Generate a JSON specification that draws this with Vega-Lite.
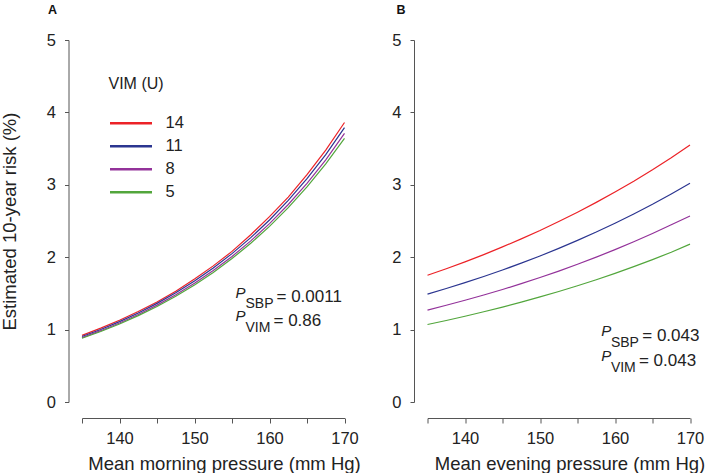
{
  "$schema": "https://vega.github.io/schema/vega-lite/v6.json",
  "padding": {"left": 0, "top": 4, "right": 0, "bottom": 0},
  "bounds": "flush",
  "spacing": 82.5,
  "config": {
    "font": "Liberation Sans",
    "view": {"stroke": null},
    "axis": {
      "grid": false,
      "domainColor": "#555555",
      "tickColor": "#555555",
      "labelColor": "#222222",
      "titleColor": "#222222",
      "labelFontSize": 16.5,
      "titleFontSize": 18.5,
      "titleFontWeight": "normal",
      "labelFont": "Liberation Sans",
      "titleFont": "Liberation Sans",
      "domainWidth": 1,
      "tickWidth": 1
    }
  },
  "datasets": {
    "curves": [
      {"p":"A","v":"14","x":135,"y":0.92},{"p":"A","v":"14","x":137.5,"y":1.02},{"p":"A","v":"14","x":140,"y":1.13},{"p":"A","v":"14","x":142.5,"y":1.25},{"p":"A","v":"14","x":145,"y":1.38},{"p":"A","v":"14","x":147.5,"y":1.53},{"p":"A","v":"14","x":150,"y":1.70},{"p":"A","v":"14","x":152.5,"y":1.88},{"p":"A","v":"14","x":155,"y":2.08},{"p":"A","v":"14","x":157.5,"y":2.31},{"p":"A","v":"14","x":160,"y":2.56},{"p":"A","v":"14","x":162.5,"y":2.83},{"p":"A","v":"14","x":165,"y":3.14},{"p":"A","v":"14","x":167.5,"y":3.48},{"p":"A","v":"14","x":170,"y":3.86},
      {"p":"A","v":"11","x":135,"y":0.905},{"p":"A","v":"11","x":137.5,"y":1.002},{"p":"A","v":"11","x":140,"y":1.11},{"p":"A","v":"11","x":142.5,"y":1.23},{"p":"A","v":"11","x":145,"y":1.362},{"p":"A","v":"11","x":147.5,"y":1.508},{"p":"A","v":"11","x":150,"y":1.671},{"p":"A","v":"11","x":152.5,"y":1.85},{"p":"A","v":"11","x":155,"y":2.049},{"p":"A","v":"11","x":157.5,"y":2.27},{"p":"A","v":"11","x":160,"y":2.514},{"p":"A","v":"11","x":162.5,"y":2.785},{"p":"A","v":"11","x":165,"y":3.084},{"p":"A","v":"11","x":167.5,"y":3.416},{"p":"A","v":"11","x":170,"y":3.79},
      {"p":"A","v":"8","x":135,"y":0.89},{"p":"A","v":"8","x":137.5,"y":0.985},{"p":"A","v":"8","x":140,"y":1.091},{"p":"A","v":"8","x":142.5,"y":1.208},{"p":"A","v":"8","x":145,"y":1.338},{"p":"A","v":"8","x":147.5,"y":1.481},{"p":"A","v":"8","x":150,"y":1.64},{"p":"A","v":"8","x":152.5,"y":1.816},{"p":"A","v":"8","x":155,"y":2.01},{"p":"A","v":"8","x":157.5,"y":2.226},{"p":"A","v":"8","x":160,"y":2.464},{"p":"A","v":"8","x":162.5,"y":2.728},{"p":"A","v":"8","x":165,"y":3.021},{"p":"A","v":"8","x":167.5,"y":3.345},{"p":"A","v":"8","x":170,"y":3.71},
      {"p":"A","v":"5","x":135,"y":0.88},{"p":"A","v":"5","x":137.5,"y":0.974},{"p":"A","v":"5","x":140,"y":1.078},{"p":"A","v":"5","x":142.5,"y":1.193},{"p":"A","v":"5","x":145,"y":1.32},{"p":"A","v":"5","x":147.5,"y":1.461},{"p":"A","v":"5","x":150,"y":1.617},{"p":"A","v":"5","x":152.5,"y":1.79},{"p":"A","v":"5","x":155,"y":1.981},{"p":"A","v":"5","x":157.5,"y":2.192},{"p":"A","v":"5","x":160,"y":2.426},{"p":"A","v":"5","x":162.5,"y":2.685},{"p":"A","v":"5","x":165,"y":2.971},{"p":"A","v":"5","x":167.5,"y":3.289},{"p":"A","v":"5","x":170,"y":3.64},
      {"p":"B","v":"14","x":135,"y":1.75},{"p":"B","v":"14","x":137.5,"y":1.841},{"p":"B","v":"14","x":140,"y":1.936},{"p":"B","v":"14","x":142.5,"y":2.036},{"p":"B","v":"14","x":145,"y":2.142},{"p":"B","v":"14","x":147.5,"y":2.253},{"p":"B","v":"14","x":150,"y":2.369},{"p":"B","v":"14","x":152.5,"y":2.492},{"p":"B","v":"14","x":155,"y":2.621},{"p":"B","v":"14","x":157.5,"y":2.757},{"p":"B","v":"14","x":160,"y":2.9},{"p":"B","v":"14","x":162.5,"y":3.05},{"p":"B","v":"14","x":165,"y":3.208},{"p":"B","v":"14","x":167.5,"y":3.374},{"p":"B","v":"14","x":170,"y":3.55},
      {"p":"B","v":"11","x":135,"y":1.49},{"p":"B","v":"11","x":137.5,"y":1.567},{"p":"B","v":"11","x":140,"y":1.648},{"p":"B","v":"11","x":142.5,"y":1.734},{"p":"B","v":"11","x":145,"y":1.823},{"p":"B","v":"11","x":147.5,"y":1.918},{"p":"B","v":"11","x":150,"y":2.017},{"p":"B","v":"11","x":152.5,"y":2.122},{"p":"B","v":"11","x":155,"y":2.232},{"p":"B","v":"11","x":157.5,"y":2.347},{"p":"B","v":"11","x":160,"y":2.469},{"p":"B","v":"11","x":162.5,"y":2.597},{"p":"B","v":"11","x":165,"y":2.731},{"p":"B","v":"11","x":167.5,"y":2.873},{"p":"B","v":"11","x":170,"y":3.02},
      {"p":"B","v":"8","x":135,"y":1.27},{"p":"B","v":"8","x":137.5,"y":1.336},{"p":"B","v":"8","x":140,"y":1.405},{"p":"B","v":"8","x":142.5,"y":1.478},{"p":"B","v":"8","x":145,"y":1.554},{"p":"B","v":"8","x":147.5,"y":1.635},{"p":"B","v":"8","x":150,"y":1.719},{"p":"B","v":"8","x":152.5,"y":1.808},{"p":"B","v":"8","x":155,"y":1.902},{"p":"B","v":"8","x":157.5,"y":2.001},{"p":"B","v":"8","x":160,"y":2.104},{"p":"B","v":"8","x":162.5,"y":2.213},{"p":"B","v":"8","x":165,"y":2.328},{"p":"B","v":"8","x":167.5,"y":2.449},{"p":"B","v":"8","x":170,"y":2.57},
      {"p":"B","v":"5","x":135,"y":1.07},{"p":"B","v":"5","x":137.5,"y":1.126},{"p":"B","v":"5","x":140,"y":1.184},{"p":"B","v":"5","x":142.5,"y":1.246},{"p":"B","v":"5","x":145,"y":1.311},{"p":"B","v":"5","x":147.5,"y":1.379},{"p":"B","v":"5","x":150,"y":1.451},{"p":"B","v":"5","x":152.5,"y":1.526},{"p":"B","v":"5","x":155,"y":1.606},{"p":"B","v":"5","x":157.5,"y":1.689},{"p":"B","v":"5","x":160,"y":1.777},{"p":"B","v":"5","x":162.5,"y":1.87},{"p":"B","v":"5","x":165,"y":1.967},{"p":"B","v":"5","x":167.5,"y":2.069},{"p":"B","v":"5","x":170,"y":2.18}
    ],
    "notes": [
      {"p":"A","k":"P","x":155.47,"y":1.443,"t":"P"},
      {"p":"A","k":"s","x":156.8,"y":1.298,"t":"SBP"},
      {"p":"A","k":"m","x":160.93,"y":1.381,"t":"= 0.0011"},
      {"p":"A","k":"P","x":155.47,"y":1.112,"t":"P"},
      {"p":"A","k":"s","x":156.8,"y":0.96,"t":"VIM"},
      {"p":"A","k":"m","x":160.53,"y":1.05,"t":"= 0.86"},
      {"p":"B","k":"P","x":158.15,"y":0.912,"t":"P"},
      {"p":"B","k":"s","x":159.45,"y":0.76,"t":"SBP"},
      {"p":"B","k":"m","x":163.63,"y":0.847,"t":"= 0.043"},
      {"p":"B","k":"P","x":158.15,"y":0.566,"t":"P"},
      {"p":"B","k":"s","x":159.45,"y":0.414,"t":"VIM"},
      {"p":"B","k":"m","x":163.19,"y":0.501,"t":"= 0.043"}
    ]
  },
  "hconcat": [
    {
      "width": 262.5,
      "height": 362,
      "title": {"text": "A", "anchor": "start", "frame": "group", "dx": -34, "fontSize": 12.5, "fontWeight": "bold", "color": "#111111", "offset": 15.5},
      "encoding": {
        "x": {"field": "x", "type": "quantitative", "scale": {"domain": [135, 170], "nice": false, "zero": false},
              "axis": {"title": "Mean morning pressure (mm Hg)", "values": [135,140,145,150,155,160,165,170], "labelExpr": "datum.value % 10 == 0 ? datum.label : ''", "offset": 16, "tickSize": 5, "labelPadding": 7, "titlePadding": 8, "titleX": 142, "labelFlush": false, "labelOverlap": false}},
        "y": {"field": "y", "type": "quantitative", "scale": {"domain": [0, 5], "nice": false},
              "axis": {"title": "Estimated 10-year risk (%)", "values": [0,1,2,3,4,5], "offset": 13.5, "tickSize": 4, "labelPadding": 9, "titlePadding": 27, "labelFlush": false}}
      },
      "layer": [
        {
          "data": {"name": "curves"},
          "transform": [{"filter": "datum.p == 'A'"}],
          "mark": {"type": "line", "strokeWidth": 1.2},
          "encoding": {
            "color": {"field": "v", "type": "nominal",
                      "scale": {"domain": ["14","11","8","5"], "range": ["#ec2227","#2b3590","#93329a","#52a63c"]},
                      "legend": {"orient": "none", "legendX": 26.5, "legendY": 36, "title": "VIM (U)", "titleFontSize": 16, "titleFontWeight": "normal", "titleColor": "#222222", "titlePadding": 21, "labelFontSize": 16.5, "labelColor": "#222222", "symbolType": "stroke", "symbolSize": 1764, "symbolStrokeWidth": 2.5, "clipHeight": 20.7, "rowPadding": 2, "labelOffset": 12, "padding": 0, "offset": 0}}
          }
        },
        {
          "data": {"name": "notes"},
          "transform": [{"filter": "datum.p == 'A' && datum.k == 'P'"}],
          "mark": {"type": "text", "fontStyle": "italic", "fontSize": 15, "align": "left", "baseline": "alphabetic", "color": "#222222"},
          "encoding": {"text": {"field": "t"}}
        },
        {
          "data": {"name": "notes"},
          "transform": [{"filter": "datum.p == 'A' && datum.k == 's'"}],
          "mark": {"type": "text", "fontSize": 14, "align": "left", "baseline": "alphabetic", "color": "#222222"},
          "encoding": {"text": {"field": "t"}}
        },
        {
          "data": {"name": "notes"},
          "transform": [{"filter": "datum.p == 'A' && datum.k == 'm'"}],
          "mark": {"type": "text", "fontSize": 17, "align": "left", "baseline": "alphabetic", "color": "#222222"},
          "encoding": {"text": {"field": "t"}}
        }
      ]
    },
    {
      "width": 262.5,
      "height": 362,
      "title": {"text": "B", "anchor": "start", "frame": "group", "dx": -31, "fontSize": 12.5, "fontWeight": "bold", "color": "#111111", "offset": 15.5},
      "encoding": {
        "x": {"field": "x", "type": "quantitative", "scale": {"domain": [135, 170], "nice": false, "zero": false},
              "axis": {"title": "Mean evening pressure (mm Hg)", "values": [135,140,145,150,155,160,165,170], "labelExpr": "datum.value % 10 == 0 ? datum.label : ''", "offset": 16, "tickSize": 5, "labelPadding": 7, "titlePadding": 8, "titleX": 142, "labelFlush": false, "labelOverlap": false}},
        "y": {"field": "y", "type": "quantitative", "scale": {"domain": [0, 5], "nice": false},
              "axis": {"title": null, "values": [0,1,2,3,4,5], "offset": 13.5, "tickSize": 4, "labelPadding": 9, "labelFlush": false}}
      },
      "layer": [
        {
          "data": {"name": "curves"},
          "transform": [{"filter": "datum.p == 'B'"}],
          "mark": {"type": "line", "strokeWidth": 1.2},
          "encoding": {
            "color": {"field": "v", "type": "nominal",
                      "scale": {"domain": ["14","11","8","5"], "range": ["#ec2227","#2b3590","#93329a","#52a63c"]},
                      "legend": null}
          }
        },
        {
          "data": {"name": "notes"},
          "transform": [{"filter": "datum.p == 'B' && datum.k == 'P'"}],
          "mark": {"type": "text", "fontStyle": "italic", "fontSize": 15, "align": "left", "baseline": "alphabetic", "color": "#222222"},
          "encoding": {"text": {"field": "t"}}
        },
        {
          "data": {"name": "notes"},
          "transform": [{"filter": "datum.p == 'B' && datum.k == 's'"}],
          "mark": {"type": "text", "fontSize": 14, "align": "left", "baseline": "alphabetic", "color": "#222222"},
          "encoding": {"text": {"field": "t"}}
        },
        {
          "data": {"name": "notes"},
          "transform": [{"filter": "datum.p == 'B' && datum.k == 'm'"}],
          "mark": {"type": "text", "fontSize": 17, "align": "left", "baseline": "alphabetic", "color": "#222222"},
          "encoding": {"text": {"field": "t"}}
        }
      ]
    }
  ],
  "resolve": {"scale": {"color": "independent"}, "legend": {"color": "independent"}}
}
